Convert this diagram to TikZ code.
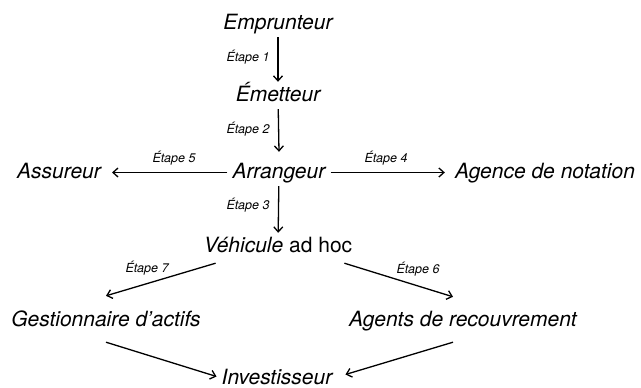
\documentclass[tikz,border=0pt]{standalone}
\usepackage{fontspec}
\setmainfont{TeX Gyre Heros}
\usetikzlibrary{arrows.meta}

\begin{document}
\begin{tikzpicture}[>={Straight Barb[length=5pt,width=9pt]},x=1pt,y=-1pt,
	  acteur/.style={font=\fontsize{21}{25}\selectfont\itshape,anchor=base,inner xsep=5pt,inner ysep=4pt,text height=15pt,text depth=4pt},
	  etape/.style={font=\fontsize{12.5}{14}\selectfont\itshape,inner sep=0pt}]
	  \useasboundingbox (0,0) rectangle (641,388);
	  \node[acteur] (emp) at (278,29) {Emprunteur};
	  \node[acteur] (emet) at (278,101) {Émetteur};
	  \node[acteur] (arr) at (279,178) {Arrangeur};
	  \node[acteur] (ass) at (59,178) {Assureur};
	  \node[acteur] (agn) at (545,178) {Agence de notation};
	  \node[acteur] (veh) at (278,252) {Véhicule {\upshape ad hoc}};
	  \node[acteur] (gest) at (106,326) {Gestionnaire d’actifs};
	  \node[acteur] (agr) at (463,326) {Agents de recouvrement};
	  \node[acteur] (inv) at (277,384) {Investisseur};
	  \node[etape] (e1) at (248,57) {Étape 1};
	  \node[etape] (e2) at (248,129) {Étape 2};
	  \node[etape] (e3) at (248,205) {Étape 3};
	  \node[etape] (e4) at (386,158) {Étape 4};
	  \node[etape] (e5) at (174,158) {Étape 5};
	  \node[etape] (e6) at (418,269) {Étape 6};
	  \node[etape] (e7) at (147,268) {Étape 7};
	  \begin{scope}[line width=1.3pt]
	    \draw[->] (emp) -- (emet);
	    \draw[->] (emet) -- ([yshift=7pt]arr.north);
	    \draw[->] (arr) -- (veh);
	    \draw[->,shorten >=6pt] (arr) -- (ass);
	    \draw[->,shorten >=5pt] (arr) -- (agn);
	    \draw[->] ([xshift=17pt,yshift=-3pt]veh.south west) -- ([yshift=11pt]gest.north);
	    \draw[->] ([xshift=-13pt,yshift=-3pt]veh.south east) -- ([xshift=-10pt,yshift=10pt]agr.north);
	    \draw[->] ([yshift=-8pt]gest.south) -- ([yshift=2pt]inv.west);
	    \draw[->] ([xshift=-10pt,yshift=-8pt]agr.south) -- ([xshift=8pt,yshift=4pt]inv.east);
	  \end{scope}
	\end{tikzpicture}
\end{document}
